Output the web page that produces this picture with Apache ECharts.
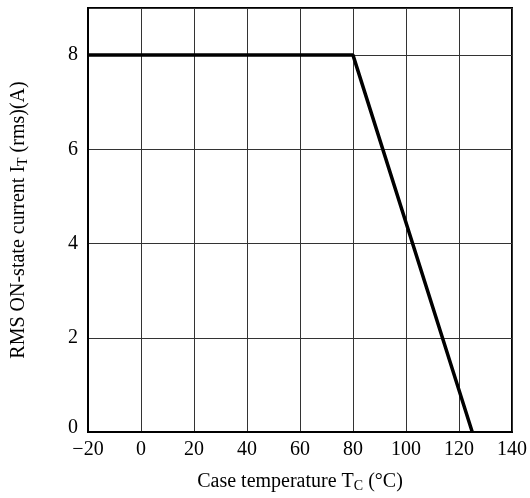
<!DOCTYPE html>
<html>
<head>
<meta charset="utf-8">
<script src="https://cdn.jsdelivr.net/npm/echarts@6/dist/echarts.min.js"></script>
<style>html,body{margin:0;padding:0;background:#fff}#c{width:530px;height:498px}</style>
</head>
<body>
<div id="c"></div>
<script>
var temperature = [-20, 80, 125];
var current = [8, 8, 0];
var xTicks = [-20, 0, 20, 40, 60, 80, 100, 120, 140];
var yTicks = [0, 2, 4, 6, 8];

var FONT = '"Liberation Serif", "DejaVu Serif", serif';
var chart = echarts.init(document.getElementById('c'));
var data = temperature.map(function (t, i) { return [t, current[i]]; });
var subStyle = { fontSize: 14, fontFamily: FONT, color: '#000', padding: [9, 0, 0, 0] };
var mainStyle = { fontSize: 20, fontFamily: FONT, color: '#000' };

chart.setOption({
  animation: false,
  backgroundColor: '#fff',
  grid: { left: 88, right: 16, top: 8, bottom: 65, show: true, borderColor: '#000', borderWidth: 2, backgroundColor: 'transparent' },
  xAxis: {
    type: 'value', min: -20, max: 140, interval: 20,
    name: '{m|Case temperature T}{s|C}{m| (°C)}',
    nameLocation: 'middle', nameGap: 38,
    nameTextStyle: { fontSize: 20, fontFamily: FONT, color: '#000', rich: { m: mainStyle, s: subStyle } },
    axisLine: { show: true, onZero: false, lineStyle: { color: '#000', width: 2 } },
    axisTick: { show: false },
    axisLabel: { fontSize: 20, fontFamily: FONT, color: '#000', margin: 8,
      formatter: function (v) {
        if (xTicks.indexOf(v) < 0) return '';
        return v < 0 ? '\u2212' + Math.abs(v) : String(v);
      } },
    splitLine: { show: true, lineStyle: { color: '#333', width: 1 } }
  },
  yAxis: {
    type: 'value', min: 0, max: 9, interval: 2,
    name: '{m|RMS ON-state current I}{s|T}{m| (rms)(A)}',
    nameLocation: 'middle', nameGap: 58,
    nameTextStyle: { fontSize: 20, fontFamily: FONT, color: '#000', rich: { m: mainStyle, s: subStyle } },
    axisLine: { show: true, onZero: false, lineStyle: { color: '#000', width: 2 } },
    axisTick: { show: false },
    axisLabel: { fontSize: 20, fontFamily: FONT, color: '#000', margin: 10,
      formatter: function (v) {
        if (yTicks.indexOf(v) < 0) return '';
        return v === 0 ? '{z|0}' : String(v);
      },
      rich: { z: { fontSize: 20, fontFamily: FONT, color: '#000', padding: [0, 0, 9, 0] } } },
    splitLine: { show: true, lineStyle: { color: '#333', width: 1 } }
  },
  series: [{
    type: 'line', data: data, symbol: 'none',
    lineStyle: { color: '#000', width: 3.5 }
  }]
});
</script>
</body>
</html>
